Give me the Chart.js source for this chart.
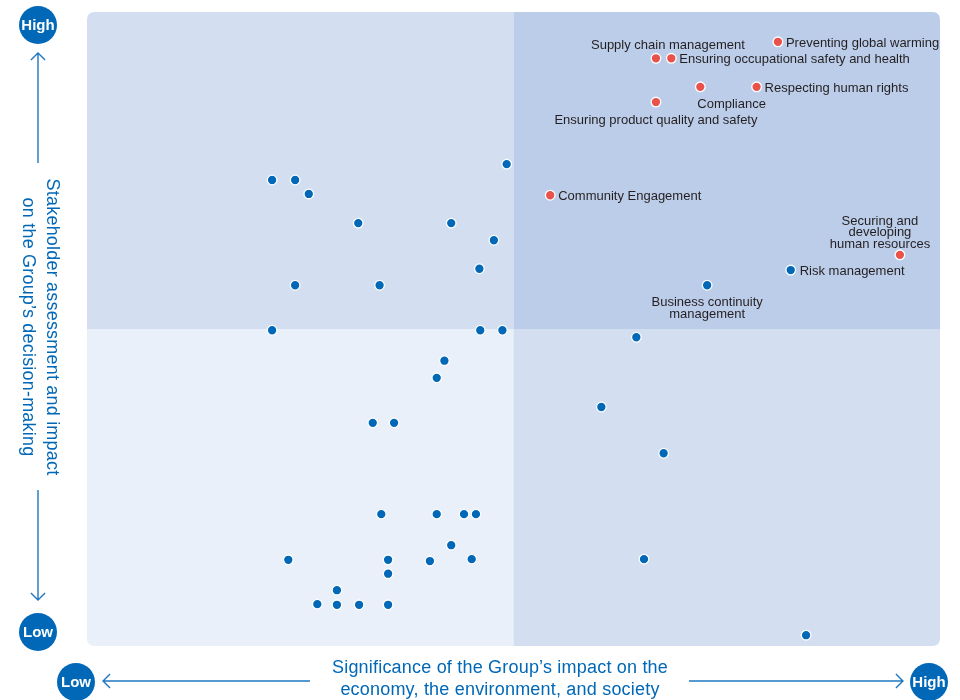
<!DOCTYPE html>
<html>
<head>
<meta charset="utf-8">
<script src="https://cdn.jsdelivr.net/npm/chart.js@4.4.1/dist/chart.umd.min.js"></script>
<style>
  html, body { margin: 0; padding: 0; background: #ffffff; }
  #wrap { width: 960px; height: 700px; }
</style>
</head>
<body>
<div id="wrap"><canvas id="matrix" width="960" height="700"></canvas></div>
<script>
// Materiality matrix: x = significance of impact, y = stakeholder assessment (0–100 each)

// Key material issues (red)
const keyIssueNames = [
  'Preventing global warming',
  'Supply chain management',
  'Ensuring occupational safety and health',
  'Compliance',
  'Respecting human rights',
  'Ensuring product quality and safety',
  'Community Engagement',
  'Securing and\ndeveloping\nhuman resources'
];
const keyIssueX = [81.0, 66.7, 68.5, 71.9, 78.5, 66.7, 54.3, 95.3];
const keyIssueY = [95.3, 92.7, 92.7, 88.2, 88.2, 85.8, 71.1, 61.7];

// Named risk-related issues (blue)
const riskIssueNames = ['Risk management', 'Business continuity\nmanagement'];
const riskIssueX = [82.5, 72.7];
const riskIssueY = [59.3, 56.9];

// Other assessed issues (blue, unnamed)
const otherX = [21.7, 24.4, 26.0, 31.8, 42.7, 47.7, 49.2, 46.0, 24.4, 34.3, 21.7, 46.1, 48.7,
                64.4, 41.9, 41.0, 33.5, 36.0, 60.3, 67.6, 34.5, 41.0, 44.2, 45.6, 42.7,
                23.6, 35.3, 40.2, 45.1, 65.3, 35.3, 29.3, 27.0, 29.3, 31.9, 35.3, 84.3];
const otherY = [73.5, 73.5, 71.3, 66.7, 66.7, 64.0, 76.0, 59.5, 56.9, 56.9, 49.8, 49.8, 49.8,
                48.7, 45.0, 42.3, 35.2, 35.2, 37.7, 30.4, 20.8, 20.8, 20.8, 20.8, 15.9,
                13.6, 13.6, 13.4, 13.7, 13.7, 11.4, 8.8, 6.6, 6.5, 6.5, 6.5, 1.7];

// Axis end markers and titles
const yAxisTitle = ['Stakeholder assessment and impact', 'on the Group\u2019s decision-making'];
const xAxisTitle = ['Significance of the Group\u2019s impact on the', 'economy, the environment, and society'];
const highText = 'High';
const lowText = 'Low';

const BLUE = '#0068b7';
const RED = '#e8524a';
const LINE_BLUE = '#1f78c1';
const LABEL_FONT = '13px "Liberation Sans", Arial, sans-serif';

const toPoints = (xs, ys) => xs.map((x, i) => ({ x, y: ys[i] }));

// How each named label sits relative to its point
const labelPlacement = {
  'Preventing global warming': { align: 'left', dx: 8, dy: 2 },
  'Supply chain management': { align: 'center', dx: 12, dy: -13 },
  'Ensuring occupational safety and health': { align: 'left', dx: 8, dy: 1.5 },
  'Compliance': { align: 'left', dx: -3, dy: 17.5 },
  'Respecting human rights': { align: 'left', dx: 8, dy: 1.5 },
  'Ensuring product quality and safety': { align: 'center', dx: 0, dy: 18.5 },
  'Community Engagement': { align: 'left', dx: 8, dy: 1.5 },
  'Securing and\ndeveloping\nhuman resources': { align: 'center', dx: -20, dy: -33.5, lh: 11.5 },
  'Risk management': { align: 'left', dx: 9, dy: 1.5 },
  'Business continuity\nmanagement': { align: 'center', dx: 0, dy: 17.5, lh: 12 }
};

function roundRectPath(ctx, x, y, w, h, r) {
  ctx.beginPath();
  ctx.moveTo(x + r, y);
  ctx.lineTo(x + w - r, y);
  ctx.arcTo(x + w, y, x + w, y + r, r);
  ctx.lineTo(x + w, y + h - r);
  ctx.arcTo(x + w, y + h, x + w - r, y + h, r);
  ctx.lineTo(x + r, y + h);
  ctx.arcTo(x, y + h, x, y + h - r, r);
  ctx.lineTo(x, y + r);
  ctx.arcTo(x, y, x + r, y, r);
  ctx.closePath();
}

const quadrantPlugin = {
  id: 'quadrants',
  beforeDatasetsDraw(chart) {
    const { ctx, chartArea: a, scales } = chart;
    const mx = scales.x.getPixelForValue(50);
    const my = scales.y.getPixelForValue(50);
    ctx.save();
    roundRectPath(ctx, a.left, a.top, a.right - a.left, a.bottom - a.top, 7);
    ctx.clip();
    ctx.fillStyle = '#d3dff0';
    ctx.fillRect(a.left, a.top, mx - a.left, my - a.top);
    ctx.fillStyle = '#bccdea';
    ctx.fillRect(mx, a.top, a.right - mx, my - a.top);
    ctx.fillStyle = '#eaf0f9';
    ctx.fillRect(a.left, my, mx - a.left, a.bottom - my);
    ctx.fillStyle = '#d3dff0';
    ctx.fillRect(mx, my, a.right - mx, a.bottom - my);
    ctx.restore();
  }
};

const labelPlugin = {
  id: 'pointLabels',
  afterDatasetsDraw(chart) {
    const { ctx } = chart;
    ctx.save();
    ctx.font = LABEL_FONT;
    ctx.fillStyle = '#231f20';
    ctx.textBaseline = 'middle';
    chart.data.datasets.forEach((ds, di) => {
      if (!ds.names) return;
      const meta = chart.getDatasetMeta(di);
      ds.names.forEach((name, i) => {
        const el = meta.data[i];
        const p = labelPlacement[name] || { align: 'left', dx: 8, dy: 0 };
        const lines = name.split('\n');
        const lh = p.lh || 13;
        ctx.textAlign = p.align;
        lines.forEach((ln, k) => {
          ctx.fillText(ln, el.x + p.dx, el.y + p.dy + k * lh);
        });
      });
    });
    ctx.restore();
  }
};

function badge(ctx, cx, cy, text) {
  ctx.beginPath();
  ctx.arc(cx, cy, 19, 0, Math.PI * 2);
  ctx.fillStyle = BLUE;
  ctx.fill();
  ctx.fillStyle = '#ffffff';
  ctx.font = 'bold 15px "Liberation Sans", Arial, sans-serif';
  ctx.letterSpacing = '0px';
  ctx.textAlign = 'center';
  ctx.textBaseline = 'middle';
  ctx.fillText(text, cx, cy + 1);
}

function arrow(ctx, x1, y1, x2, y2) {
  // line from (x1,y1) to tip (x2,y2) with an open chevron head
  const ang = Math.atan2(y2 - y1, x2 - x1);
  const hl = 10;
  ctx.beginPath();
  ctx.moveTo(x1, y1);
  ctx.lineTo(x2, y2);
  ctx.moveTo(x2 - hl * Math.cos(ang - Math.PI / 4), y2 - hl * Math.sin(ang - Math.PI / 4));
  ctx.lineTo(x2, y2);
  ctx.lineTo(x2 - hl * Math.cos(ang + Math.PI / 4), y2 - hl * Math.sin(ang + Math.PI / 4));
  ctx.stroke();
}

const axisPlugin = {
  id: 'axisDecor',
  afterDraw(chart) {
    const { ctx } = chart;
    ctx.save();
    ctx.strokeStyle = LINE_BLUE;
    ctx.lineWidth = 1.4;

    // vertical axis
    arrow(ctx, 38, 163, 38, 53);
    arrow(ctx, 38, 490, 38, 600);
    badge(ctx, 38, 25, highText);
    badge(ctx, 38, 632, lowText);

    // horizontal axis
    arrow(ctx, 310, 681, 103, 681);
    arrow(ctx, 689, 681, 903, 681);
    badge(ctx, 76, 682, lowText);
    badge(ctx, 929, 682, highText);

    // axis titles
    ctx.fillStyle = BLUE;
    ctx.font = '18px "Liberation Sans", Arial, sans-serif';
    ctx.letterSpacing = '0.2px';
    ctx.textAlign = 'center';
    ctx.textBaseline = 'middle';
    ctx.save();
    ctx.translate(40, 327);
    ctx.rotate(Math.PI / 2);
    ctx.fillText(yAxisTitle[0], 0, -12);
    ctx.fillText(yAxisTitle[1], 0, 12);
    ctx.restore();
    ctx.fillText(xAxisTitle[0], 500, 668);
    ctx.fillText(xAxisTitle[1], 500, 690);
    ctx.restore();
  }
};

const pointStyle = (color) => ({
  backgroundColor: color,
  borderColor: '#ffffff',
  borderWidth: 1.3,
  pointRadius: 4.8,
  pointHoverRadius: 4.8
});

new Chart(document.getElementById('matrix'), {
  type: 'scatter',
  data: {
    datasets: [
      Object.assign({ label: 'Other issues', data: toPoints(otherX, otherY) }, pointStyle(BLUE)),
      Object.assign({ label: 'Risk issues', names: riskIssueNames, data: toPoints(riskIssueX, riskIssueY) }, pointStyle(BLUE)),
      Object.assign({ label: 'Key material issues', names: keyIssueNames, data: toPoints(keyIssueX, keyIssueY) }, pointStyle(RED))
    ]
  },
  options: {
    responsive: false,
    animation: false,
    layout: { padding: { left: 87, right: 20, top: 12, bottom: 54 } },
    scales: {
      x: { type: 'linear', min: 0, max: 100, display: false },
      y: { type: 'linear', min: 0, max: 100, display: false }
    },
    plugins: {
      legend: { display: false },
      tooltip: { enabled: false }
    },
    events: []
  },
  plugins: [quadrantPlugin, labelPlugin, axisPlugin]
});
</script>
</body>
</html>
